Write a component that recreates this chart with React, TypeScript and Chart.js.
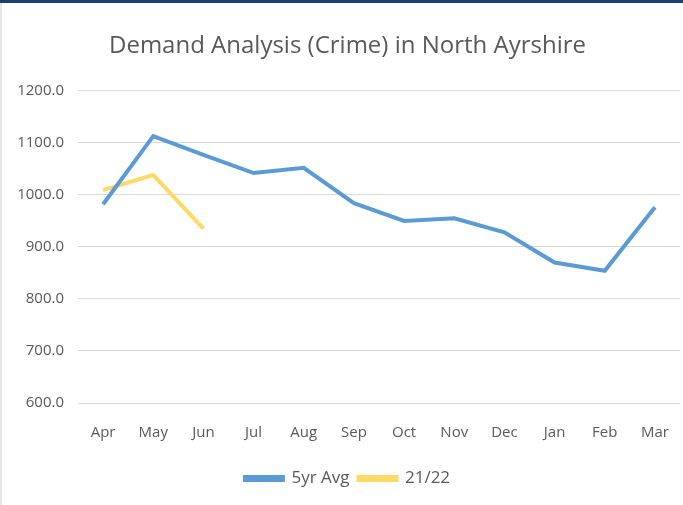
import React, { useEffect, useRef } from "react";
import { Chart, registerables } from "chart.js";

Chart.register(...registerables);

const months = ["Apr", "May", "Jun", "Jul", "Aug", "Sep", "Oct", "Nov", "Dec", "Jan", "Feb", "Mar"];
const fiveYrAvg = [982, 1113, 1077, 1042, 1052, 984, 950, 955, 928, 870, 854, 976];
const current2122 = [1009, 1038, 935];
const yTicks = [600, 700, 800, 900, 1000, 1100, 1200];

const FONT = "'Open Sans', sans-serif";
const TEXT = "#595959";

export default function App() {
  const ref = useRef<HTMLCanvasElement | null>(null);

  useEffect(() => {
    document.body.style.margin = "0";
    const ctx = ref.current;
    if (!ctx) return;
    const chart = new Chart(ctx, {
      type: "line",
      data: {
        labels: months,
        datasets: [
          {
            label: "5yr Avg",
            data: fiveYrAvg,
            borderColor: "#5b9bd5",
            backgroundColor: "#5b9bd5",
            borderWidth: 4,
            pointRadius: 0,
            tension: 0,
          },
          {
            label: "21/22",
            data: current2122,
            borderColor: "#ffd966",
            backgroundColor: "#ffd966",
            borderWidth: 4,
            pointRadius: 0,
            tension: 0,
          },
        ],
      },
      options: {
        animation: false,
        responsive: false,
        layout: { padding: { left: 15, right: 3, top: 0, bottom: 8 } },
        plugins: {
          title: {
            display: true,
            text: "Demand Analysis (Crime) in North Ayrshire",
            color: TEXT,
            font: { family: FONT, size: 24, weight: "normal" },
            padding: { top: 32, bottom: 30 },
          },
          legend: {
            position: "bottom",
            labels: {
              color: TEXT,
              font: { family: FONT, size: 17 },
              boxWidth: 38,
              boxHeight: 3,
              padding: 9,
            },
          },
          tooltip: { enabled: false },
        },
        scales: {
          x: {
            offset: true,
            grid: { display: false },
            border: { display: false },
            ticks: {
              color: TEXT,
              font: { family: FONT, size: 15 },
              padding: 13,
              maxRotation: 0,
            },
            afterFit: (s: any) => {
              s.height = 58;
            },
          },
          y: {
            min: 600,
            max: 1200,
            afterBuildTicks: (s: any) => {
              s.ticks = yTicks.map((v) => ({ value: v }));
            },
            grid: { color: "#d9d9d9", lineWidth: 1, drawTicks: false },
            border: { display: false },
            ticks: {
              color: TEXT,
              font: { family: FONT, size: 15 },
              padding: 14,
              callback: (v: any) => Number(v).toFixed(1),
            },
            afterFit: (s: any) => {
              s.width = 63;
            },
          },
        },
      },
    });
    return () => chart.destroy();
  }, []);

  return (
    <div style={{ position: "absolute", left: 0, top: 0, width: 683, height: 505, background: "#fff" }}>
      <canvas ref={ref} width={683} height={505} style={{ display: "block" }} />
      <div style={{ position: "absolute", left: 0, top: 0, width: 683, height: 3, background: "#1c3f73" }} />
      <div style={{ position: "absolute", left: 0, top: 3, width: 2, height: 502, background: "#e6e6e6" }} />
    </div>
  );
}
